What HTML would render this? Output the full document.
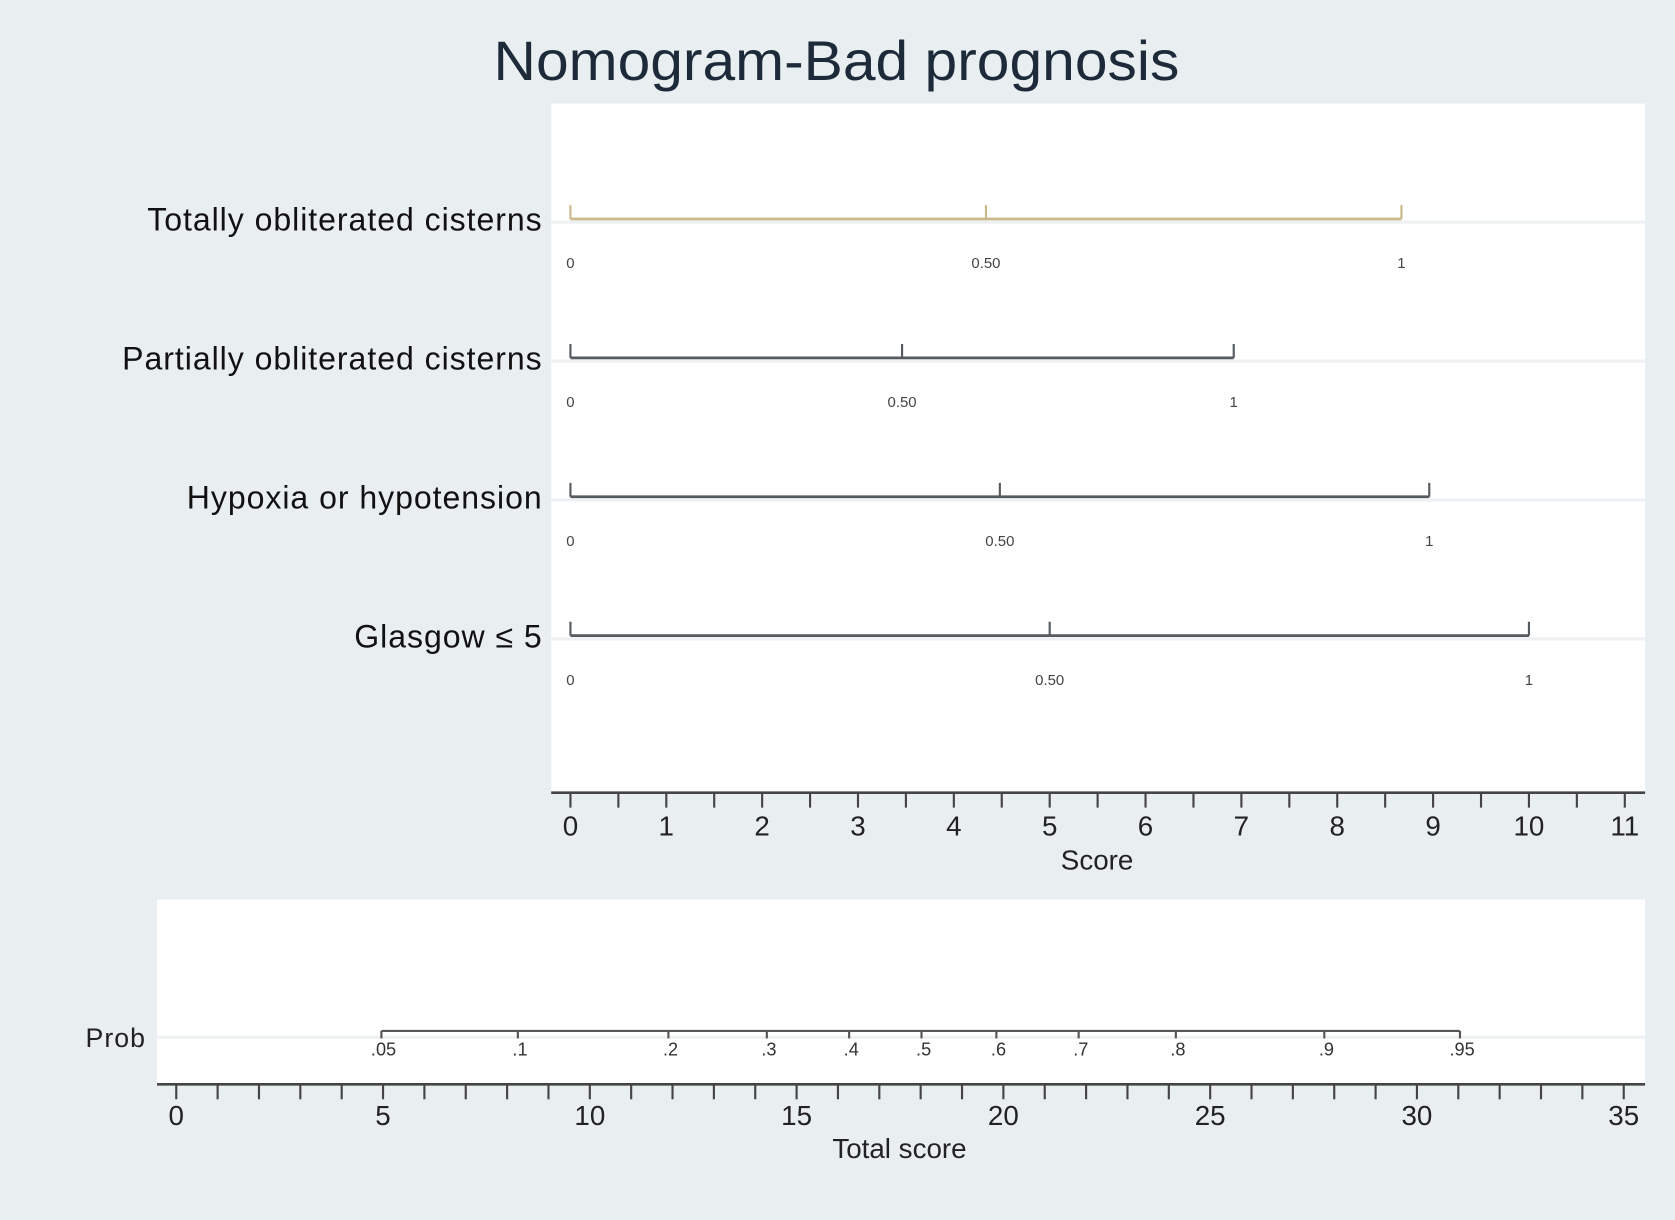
<!DOCTYPE html>
<html><head><meta charset="utf-8"><style>
html,body{margin:0;padding:0;background:#e9eef1;}
svg{display:block;}
text{font-family:"Liberation Sans",Arial,sans-serif;}
</style></head><body>
<svg id="chart" width="1675" height="1220" viewBox="0 0 1568 1142" preserveAspectRatio="none" xmlns="http://www.w3.org/2000/svg">
<rect x="0" y="0" width="1568" height="1142" fill="#e9eef1"/>
<text x="783" y="75" text-anchor="middle" font-size="52" fill="#1c2a3a" textLength="642" lengthAdjust="spacingAndGlyphs">Nomogram-Bad prognosis</text>
<rect x="516" y="97" width="1024" height="645" fill="#ffffff"/>
<rect x="147" y="842" width="1393" height="173" fill="#ffffff"/>
<g id="g"></g>
</svg>
<script>
const rowLabels = ["Totally obliterated cisterns","Partially obliterated cisterns","Hypoxia or hypotension","Glasgow \u2264 5"];
const rowMaxScores = [8.67, 6.92, 8.96, 10];
const rowTickLabels = ["0","0.50","1"];
const scoreTicks = [0,1,2,3,4,5,6,7,8,9,10,11];
const totalTicks = [0,5,10,15,20,25,30,35];
const probLabels = [".05",".1",".2",".3",".4",".5",".6",".7",".8",".9",".95"];
const probScores = [4.96,8.26,11.9,14.28,16.27,18.02,19.83,21.82,24.17,27.76,31.04];

const NS="http://www.w3.org/2000/svg";
const g=document.getElementById('g');
function mk(tag,attrs,txt){const e=document.createElementNS(NS,tag);for(const k in attrs)e.setAttribute(k,attrs[k]);if(txt!==undefined)e.textContent=txt;g.appendChild(e);return e;}
const xs=v=>534+v*(1521-534)/11;
const xt=v=>165+v*(1520-165)/35;
const rowY=[205,335,465,595];

rowLabels.forEach((lab,i)=>{
  const y=rowY[i];
  const col=i===0?"#c9b98a":"#555a5e";
  let e=mk('line',{x1:516,x2:1540,y1:y+3,y2:y+3,stroke:"#eef1f3","stroke-width":3});
  
  
  e=mk('text',{x:508,y:y+11,"text-anchor":"end","font-size":30,"letter-spacing":"0.9",fill:"#111"},lab);
  
  
  const mx=rowMaxScores[i];
  e=mk('line',{x1:xs(0),x2:xs(mx),y1:y,y2:y,stroke:col,"stroke-width":2.5});
  
  
  [0,mx/2,mx].forEach((v,j)=>{
    let t=mk('line',{x1:xs(v),x2:xs(v),y1:y-13,y2:y,stroke:col,"stroke-width":2});
    
    
    t=mk('text',{x:xs(v),y:y+46,"text-anchor":"middle","font-size":14,fill:"#444"},rowTickLabels[j]);
    
    
  });
});

let a=mk('line',{x1:516,x2:1540,y1:742,y2:742,stroke:"#444","stroke-width":2.5});


for(let v=0;v<=11;v+=0.5){
  const t=mk('line',{x1:xs(v),x2:xs(v),y1:742,y2:756,stroke:"#444","stroke-width":2});
  
  
}
scoreTicks.forEach(v=>{
  const t=mk('text',{x:xs(v),y:782,"text-anchor":"middle","font-size":26,fill:"#222"},String(v));
  
  
});
a=mk('text',{x:1027,y:814,"text-anchor":"middle","font-size":26,fill:"#222"},"Score");



a=mk('line',{x1:147,x2:1540,y1:971,y2:971,stroke:"#eef1f3","stroke-width":3});


a=mk('text',{x:80,y:980,"font-size":25,"letter-spacing":"1",fill:"#222"},"Prob");


a=mk('line',{x1:xt(probScores[0]),x2:xt(probScores[probScores.length-1]),y1:965,y2:965,stroke:"#555","stroke-width":2});


probScores.forEach((v,i)=>{
  let t=mk('line',{x1:xt(v),x2:xt(v),y1:965,y2:972,stroke:"#555","stroke-width":2});
  
  
  t=mk('text',{x:xt(v)+2,y:988,"text-anchor":"middle","font-size":17,fill:"#333"},probLabels[i]);
  
  
});

a=mk('line',{x1:147,x2:1540,y1:1015,y2:1015,stroke:"#444","stroke-width":2.5});


for(let v=0;v<=35;v++){
  const t=mk('line',{x1:xt(v),x2:xt(v),y1:1015,y2:1029,stroke:"#444","stroke-width":2});
  
  
}
totalTicks.forEach(v=>{
  const t=mk('text',{x:xt(v),y:1053,"text-anchor":"middle","font-size":26,fill:"#222"},String(v));
  
  
});
a=mk('text',{x:842,y:1084,"text-anchor":"middle","font-size":26,fill:"#222"},"Total score");


</script>
</body></html>
